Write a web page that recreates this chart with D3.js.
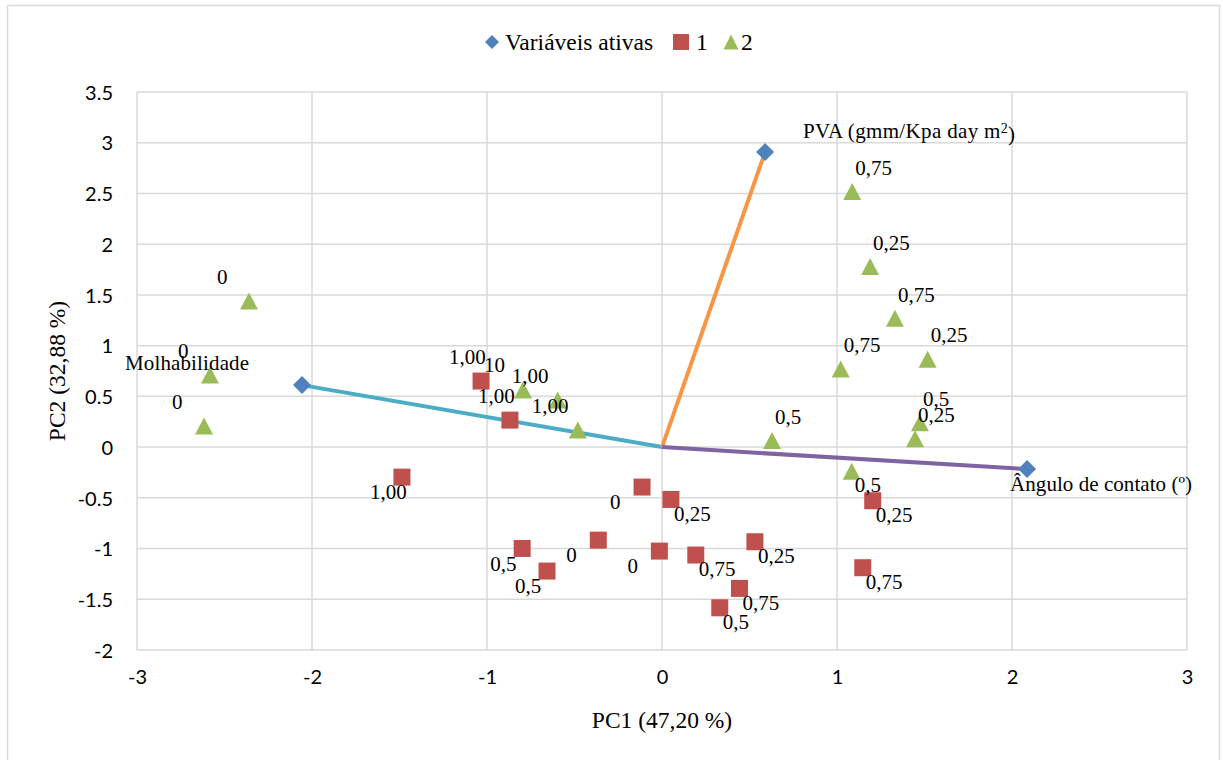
<!DOCTYPE html>
<meta charset="utf-8">
<style>
    body { margin: 0; background: #fff; }
    .grid line { stroke: #d9d9d9; stroke-width: 1.5; }
    .tick-label { font: 20px Lato, "Liberation Sans", sans-serif; fill: #000; }
    .serif { font-family: "Liberation Serif", "Times New Roman", serif; fill: #000; }
</style>
<svg width="1223" height="760"></svg>
<script src="https://d3js.org/d3.v7.min.js"></script>
<script>
    // active variables (loadings)
    var varNames = ["Molhabilidade", "PVA", "Ângulo de contato (º)"];
    var varX = [-2.057, 0.589, 2.086];
    var varY = [0.611, 2.908, -0.217];

    // series 1 (squares)
    var s1X = [-1.486, -1.034, -0.869, -0.114, 0.051, -0.799, -0.657, -0.364, -0.015, 0.193, 0.531, 0.443, 0.330, 1.204, 1.147];
    var s1Y = [-0.296, 0.651, 0.266, -0.394, -0.516, -0.999, -1.222, -0.917, -1.025, -1.064, -0.933, -1.393, -1.584, -0.529, -1.189];
    var s1Labels = ["1,00", "1,00", "1,00", "0", "0,25", "0,5", "0,5", "0", "0", "0,75", "0,25", "0,75", "0,5", "0,25", "0,75"];

    // series 2 (triangles)
    var s2X = [-2.36, -2.583, -2.617, -0.794, -0.596, -0.481, 1.087, 1.189, 1.331, 1.021, 1.518, 0.629, 1.474, 1.446, 1.084];
    var s2Y = [1.439, 0.71, 0.207, 0.562, 0.463, 0.168, 2.52, 1.78, 1.27, 0.769, 0.867, 0.065, 0.24, 0.082, -0.237];
    var s2Labels = ["0", "0", "0", "10", "1,00", "1,00", "0,75", "0,25", "0,75", "0,75", "0,25", "0,5", "0,5", "0,25", "0,5"];

    var xTicks = [-3, -2, -1, 0, 1, 2, 3];
    var yTicks = [-2, -1.5, -1, -0.5, 0, 0.5, 1, 1.5, 2, 2.5, 3, 3.5];

    // label placement (layout only)
    var s1Place = ["bl", "tl", "tl", "bl", "br", "bl", "bl", "bl", "bl", "br", "br", "br", "br", "br", "br"];
    var s2Place = ["tl", "tl", "tl", "tlx", "tll", "tll", "tr", "tr", "tr", "tr", "tr", "tr", "tr", "tr", "br"];
    var placeOffset = {tl: [-32, -24], tlx: [-39, -25], tll: [-46, -24], tr: [3, -24], bl: [-32, 15], br: [3, 14]};
    var varOffset = [[-177, -22], [38, -21], [-17, 15]];
    var varWidth = [124, 212, 182];

    var lineColors = ["#4bacc6", "#f79646", "#8064a2"];
    var blue = "#4f81bd", red = "#c0504d", green = "#9bbb59";

    var svg = d3.select("svg");
    var plotLeft = 137, plotRight = 1187, plotTop = 92, plotBottom = 650;

    var x = d3.scaleLinear().domain([-3, 3]).range([plotLeft, plotRight]);
    var y = d3.scaleLinear().domain([-2, 3.5]).range([plotBottom, plotTop]);

    // chart border
    svg.append("rect")
        .attr("x", 7.5).attr("y", 5.5).attr("width", 1212).attr("height", 760)
        .attr("fill", "none").attr("stroke", "#d9d9d9").attr("stroke-width", 1.5);

    var grid = svg.append("g").attr("class", "grid");
    grid.selectAll(".h").data(yTicks).enter().append("line")
        .attr("x1", plotLeft).attr("x2", plotRight)
        .attr("y1", function (d) { return y(d); }).attr("y2", function (d) { return y(d); });
    grid.selectAll(".v").data(xTicks).enter().append("line")
        .attr("y1", plotTop).attr("y2", plotBottom)
        .attr("x1", function (d) { return x(d); }).attr("x2", function (d) { return x(d); });

    // axes (labels only, lines come from grid)
    var yAxis = svg.append("g")
        .attr("transform", "translate(" + (plotLeft - 24) + ",0)")
        .call(d3.axisLeft(y).tickValues(yTicks).tickSize(0).tickFormat(function (d) { return String(d); }));
    var xAxis = svg.append("g")
        .attr("transform", "translate(0," + (plotBottom + 20) + ")")
        .call(d3.axisBottom(x).tickValues(xTicks).tickSize(0).tickFormat(function (d) { return String(d); }));
    [yAxis, xAxis].forEach(function (a) {
        a.select(".domain").remove();
        a.selectAll("text").attr("class", "tick-label").attr("fill", null);
        a.attr("font-size", null).attr("font-family", null);
    });
    yAxis.selectAll("text").attr("x", 0).attr("dy", "0.36em");
    xAxis.selectAll("text").attr("y", 0).attr("dy", "0.72em");

    // axis titles
    svg.append("text").attr("class", "serif")
        .attr("x", (plotLeft + plotRight) / 2).attr("y", 720).attr("dy", "0.35em")
        .attr("text-anchor", "middle").style("font-size", "23.5px")
        .text("PC1 (47,20 %)");
    svg.append("text").attr("class", "serif")
        .attr("transform", "translate(57," + (plotTop + plotBottom) / 2 + ") rotate(-90)")
        .attr("dy", "0.35em")
        .attr("text-anchor", "middle").style("font-size", "23.5px")
        .text("PC2 (32,88 %)");

    // loading lines from origin
    svg.append("g").selectAll("line").data(varNames).enter().append("line")
        .attr("x1", x(0)).attr("y1", y(0))
        .attr("x2", function (d, i) { return x(varX[i]); })
        .attr("y2", function (d, i) { return y(varY[i]); })
        .attr("stroke", function (d, i) { return lineColors[i]; })
        .attr("stroke-width", 4);

    var diamond = "M0,-9L9,0L0,9L-9,0Z";
    var square = "M-8.5,-8.5H8.5V8.5H-8.5Z";
    var triangle = "M0,-8.5L9,8.5L-9,8.5Z";

    svg.append("g").selectAll("path").data(varNames).enter().append("path")
        .attr("d", diamond).attr("fill", blue)
        .attr("transform", function (d, i) { return "translate(" + x(varX[i]) + "," + y(varY[i]) + ")"; });

    svg.append("g").selectAll("path").data(s1X).enter().append("path")
        .attr("d", square).attr("fill", red)
        .attr("transform", function (d, i) { return "translate(" + x(d) + "," + y(s1Y[i]) + ")"; });

    svg.append("g").selectAll("path").data(s2X).enter().append("path")
        .attr("d", triangle).attr("fill", green)
        .attr("transform", function (d, i) { return "translate(" + x(d) + "," + y(s2Y[i]) + ")"; });

    // data labels
    function addLabels(xs, ys, labels, place) {
        svg.append("g").selectAll("text").data(labels).enter().append("text")
            .attr("class", "serif").style("font-size", "21px")
            .attr("x", function (d, i) { return x(xs[i]) + placeOffset[place[i]][0]; })
            .attr("y", function (d, i) { return y(ys[i]) + placeOffset[place[i]][1]; })
            .attr("dy", "0.35em")
            .text(function (d) { return d; });
    }
    addLabels(s1X, s1Y, s1Labels, s1Place);
    addLabels(s2X, s2Y, s2Labels, s2Place);

    var vl = svg.append("g").selectAll("text").data(varNames).enter().append("text")
        .attr("class", "serif").style("font-size", "21px")
        .attr("x", function (d, i) { return x(varX[i]) + varOffset[i][0]; })
        .attr("y", function (d, i) { return y(varY[i]) + varOffset[i][1]; })
        .attr("dy", "0.35em")
        .attr("textLength", function (d, i) { return varWidth[i]; })
        .attr("lengthAdjust", "spacing");
    vl.each(function (d) {
        var t = d3.select(this);
        if (d === "PVA") {
            t.append("tspan").text("PVA (gmm/Kpa day m");
            t.append("tspan").attr("dy", "-0.4em").style("font-size", "14px").text("2");
            t.append("tspan").attr("dy", "0.4em").text(")");
        } else {
            t.text(d);
        }
    });

    // legend
    var legend = svg.append("g").attr("transform", "translate(0,42)");
    legend.append("path").attr("d", "M0,-7L7,0L0,7L-7,0Z").attr("fill", blue).attr("transform", "translate(492,0)");
    legend.append("text").attr("class", "serif").style("font-size", "23.5px")
        .attr("x", 505).attr("dy", "0.35em").text("Variáveis ativas");
    legend.append("path").attr("d", "M-8,-8H8V8H-8Z").attr("fill", red).attr("transform", "translate(681,0)");
    legend.append("text").attr("class", "serif").style("font-size", "23.5px")
        .attr("x", 696).attr("dy", "0.35em").text("1");
    legend.append("path").attr("d", "M0,-7.5L7.5,7.5L-7.5,7.5Z").attr("fill", green).attr("transform", "translate(731,0)");
    legend.append("text").attr("class", "serif").style("font-size", "23.5px")
        .attr("x", 741).attr("dy", "0.35em").text("2");
</script>
